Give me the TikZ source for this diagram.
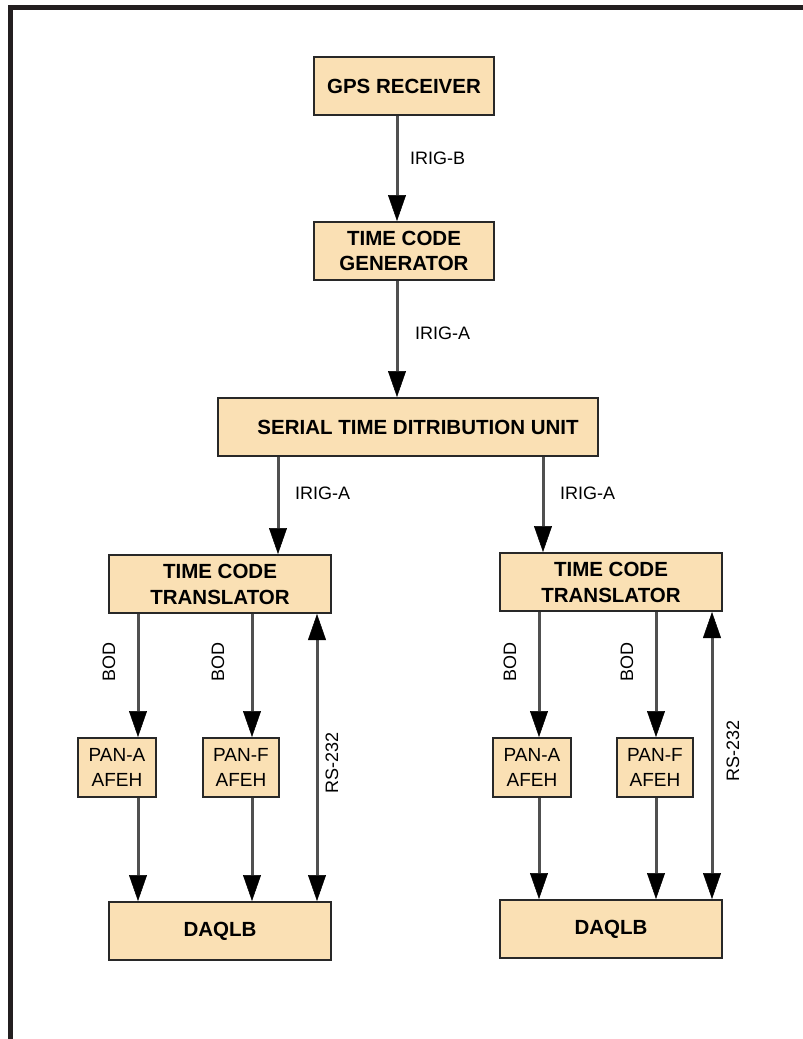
\documentclass[tikz,border=0pt]{standalone}
\usepackage{fontspec}
\setmainfont{Liberation Sans}
\usetikzlibrary{arrows.meta}
\definecolor{boxtan}{RGB}{250,224,180}
\definecolor{boxline}{RGB}{40,40,40}
\definecolor{sigline}{RGB}{80,80,80}
\definecolor{frame}{RGB}{35,31,32}

\begin{document}
\begin{tikzpicture}[x=1pt,y=-1pt,
  box/.style={draw=boxline,line width=2pt,fill=boxtan,inner sep=0pt,align=center,
    font=\fontsize{20.5}{25}\selectfont\bfseries},
  afeh/.style={box,font=\fontsize{19}{25}\selectfont},
  sig/.style={draw=sigline,line width=3pt,
    >={Triangle[width=18pt,length=26pt,black,line width=0.5pt]}},
  lbl/.style={inner sep=0pt,font=\fontsize{18}{18}\selectfont},
  vlbl/.style={lbl,rotate=90}]

% Page and frame
\useasboundingbox (0,0) rectangle (803,1039);
\fill[white] (0,0) rectangle (803,1039);
\fill[frame] (8,5) rectangle (803,10);
\fill[frame] (8,5) rectangle (13,1039);

% Draw the top chain
\node[box,minimum width=180pt,minimum height=58pt] (gps) at (404,86) {GPS RECEIVER};
\node[box,minimum width=180pt,minimum height=58pt] (tcg) at (404,251) {TIME CODE\\GENERATOR};
\node[box,minimum width=380pt,minimum height=58pt] (stdu) at (408,427)
  {\hspace*{20pt}SERIAL TIME DITRIBUTION UNIT};

% Draw the translators
\node[box,minimum width=222pt,minimum height=58pt,font=\fontsize{20.5}{26}\selectfont\bfseries]
  (tctL) at (220,584) {TIME CODE\\TRANSLATOR};
\node[box,minimum width=222pt,minimum height=58pt,font=\fontsize{20.5}{26}\selectfont\bfseries]
  (tctR) at (611,582) {TIME CODE\\TRANSLATOR};

% Draw the front ends
\node[afeh,minimum width=78pt,minimum height=59pt] (panAL) at (117,767.5) {PAN-A\\AFEH};
\node[afeh,minimum width=76pt,minimum height=59pt] (panFL) at (241,767.5) {PAN-F\\AFEH};
\node[afeh,minimum width=78pt,minimum height=59pt] (panAR) at (532,767.5) {PAN-A\\AFEH};
\node[afeh,minimum width=76pt,minimum height=59pt] (panFR) at (655,767.5) {PAN-F\\AFEH};

% Draw the DAQLB boxes
\node[box,minimum width=222pt,minimum height=58pt] (daqL) at (220,931) {DAQLB};
\node[box,minimum width=222pt,minimum height=58pt] (daqR) at (611,929) {DAQLB};

% Line positions
\coordinate (xT) at (397,0);
\coordinate (xsL) at (278,0);
\coordinate (xsR) at (543,0);
\coordinate (xL1) at (138,0);
\coordinate (xL2) at (252,0);
\coordinate (xL3) at (317,0);
\coordinate (xR1) at (539,0);
\coordinate (xR2) at (656,0);
\coordinate (xR3) at (712,0);

% Arrows down the top chain
\draw[sig,->] (gps.south -| xT) -- (tcg.north -| xT);
\draw[sig,->] (tcg.south -| xT) -- (stdu.north -| xT);
\draw[sig,->] (stdu.south -| xsL) -- (tctL.north -| xsL);
\draw[sig,->] (stdu.south -| xsR) -- (tctR.north -| xsR);

% Left branch
\draw[sig,->] (tctL.south -| xL1) -- (panAL.north -| xL1);
\draw[sig,->] (tctL.south -| xL2) -- (panFL.north -| xL2);
\draw[sig,->] (panAL.south -| xL1) -- (daqL.north -| xL1);
\draw[sig,->] (panFL.south -| xL2) -- (daqL.north -| xL2);
\draw[sig,<->] (tctL.south -| xL3) -- (daqL.north -| xL3);

% Right branch
\draw[sig,->] (tctR.south -| xR1) -- (panAR.north -| xR1);
\draw[sig,->] (tctR.south -| xR2) -- (panFR.north -| xR2);
\draw[sig,->] (panAR.south -| xR1) -- (daqR.north -| xR1);
\draw[sig,->] (panFR.south -| xR2) -- (daqR.north -| xR2);
\draw[sig,<->] (tctR.south -| xR3) -- (daqR.north -| xR3);

% Labels
\node[lbl,anchor=west] (irigb) at (410,158) {IRIG-B};
\node[lbl,anchor=west] (iriga) at (415,333) {IRIG-A};
\node[lbl,anchor=west] (irigaL) at (295,493) {IRIG-A};
\node[lbl,anchor=west] (irigaR) at (560,493) {IRIG-A};
\node[vlbl] (bodL1) at (109,662) {BOD};
\node[vlbl] (bodL2) at (218,662) {BOD};
\node[vlbl] (bodR1) at (510,662) {BOD};
\node[vlbl] (bodR2) at (627,662) {BOD};
\node[vlbl] (rsL) at (332,763) {RS-232};
\node[vlbl] (rsR) at (733,751) {RS-232};

\end{tikzpicture}
\end{document}
